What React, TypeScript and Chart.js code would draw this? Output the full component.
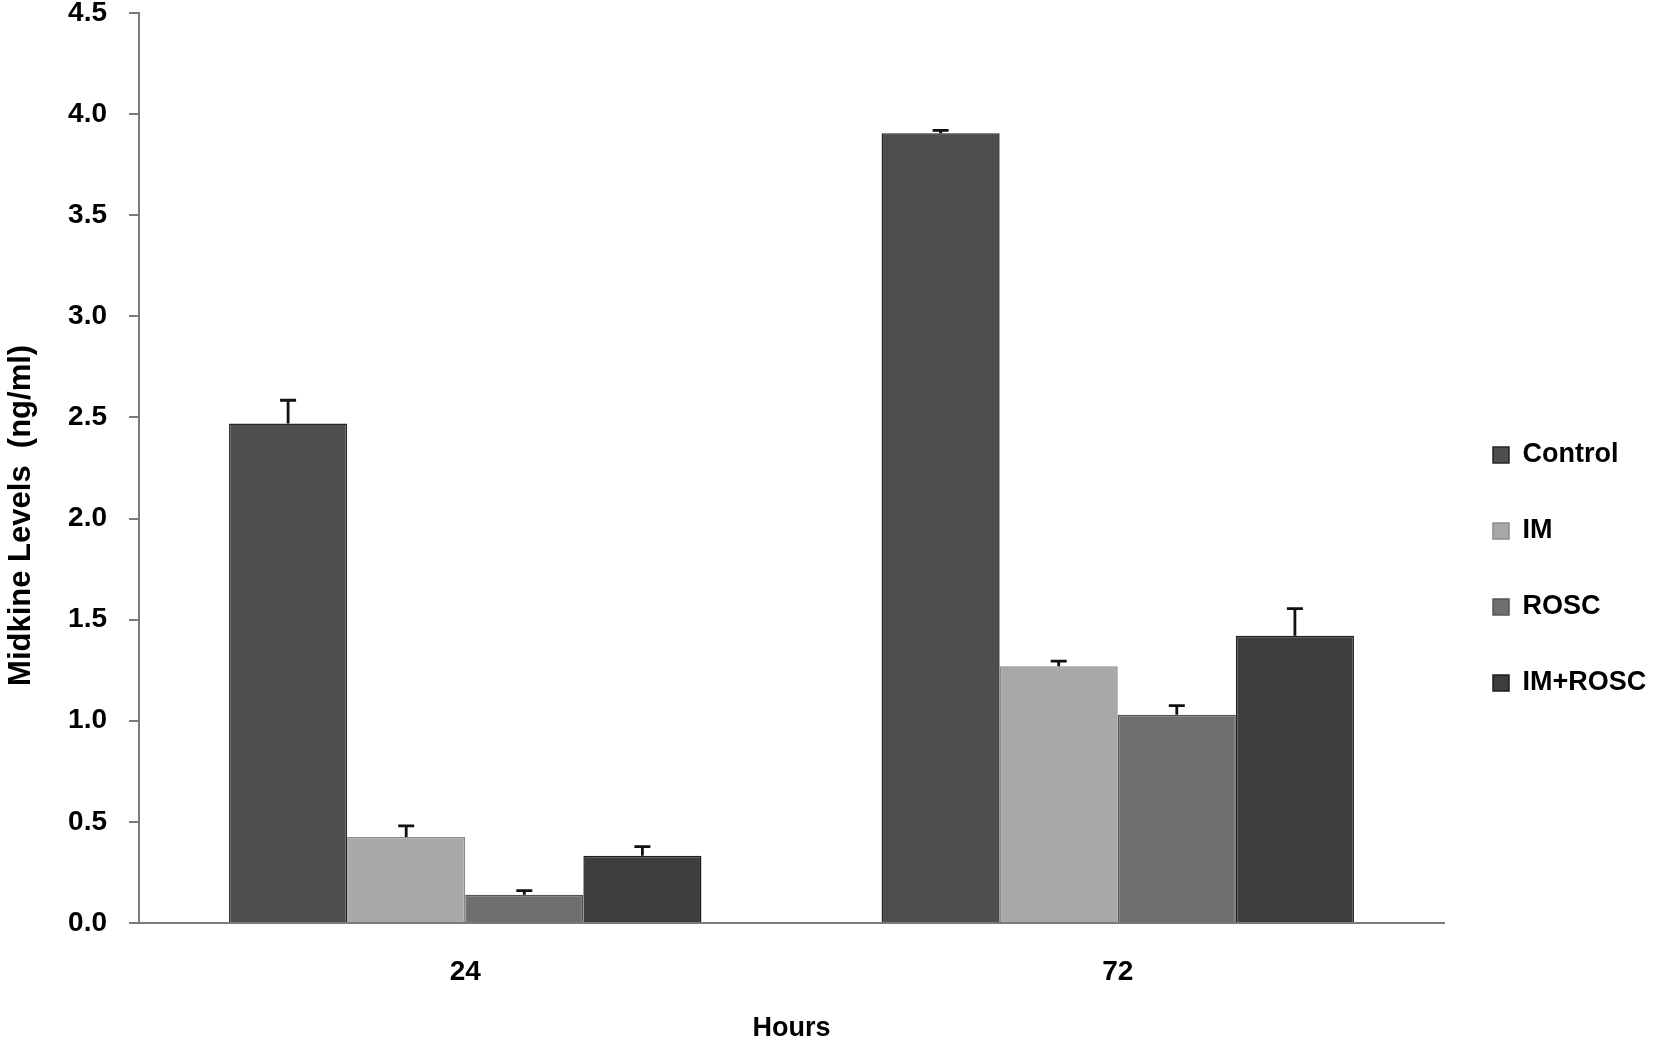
import React, { useEffect, useRef } from "react";
import { Chart, registerables } from "chart.js";

Chart.register(...registerables);

const categories = ["24", "72"];
const seriesNames = ["Control", "IM", "ROSC", "IM+ROSC"];
const controlValues = [2.47, 3.905];
const controlErrors = [0.115, 0.015];
const imValues = [0.425, 1.27];
const imErrors = [0.055, 0.025];
const roscValues = [0.14, 1.03];
const roscErrors = [0.02, 0.045];
const imRoscValues = [0.333, 1.42];
const imRoscErrors = [0.045, 0.135];
const yTicks = [0, 0.5, 1.0, 1.5, 2.0, 2.5, 3.0, 3.5, 4.0, 4.5];

const fillColors = ["#4e4e4e", "#a8a8a8", "#6f6f6f", "#3d3d3d"];
const edgeColors = ["#262626", "#8c8c8c", "#555555", "#1e1e1e"];
const FONT = "'Liberation Sans', Arial, sans-serif";

const errorBarPlugin = {
  id: "errorBars",
  afterDatasetsDraw(chart: any) {
    const ctx = chart.ctx;
    const yScale = chart.scales.y;
    ctx.save();
    ctx.strokeStyle = "#111111";
    ctx.lineWidth = 2.8;
    chart.data.datasets.forEach((ds: any, i: number) => {
      const meta = chart.getDatasetMeta(i);
      meta.data.forEach((bar: any, j: number) => {
        const v = ds.data[j];
        const e = ds.errors[j];
        const yTop = yScale.getPixelForValue(v);
        const yErr = yScale.getPixelForValue(v + e);
        ctx.beginPath();
        ctx.moveTo(bar.x, yTop);
        ctx.lineTo(bar.x, yErr);
        ctx.moveTo(bar.x - 8, yErr);
        ctx.lineTo(bar.x + 8, yErr);
        ctx.stroke();
      });
    });
    ctx.restore();
  },
};

export default function App() {
  const ref = useRef<HTMLCanvasElement | null>(null);
  useEffect(() => {
    document.body.style.margin = "0";
    const valueSets = [controlValues, imValues, roscValues, imRoscValues];
    const errorSets = [controlErrors, imErrors, roscErrors, imRoscErrors];
    const chart = new Chart(ref.current as HTMLCanvasElement, {
      type: "bar",
      data: {
        labels: categories,
        datasets: seriesNames.map((name, i) => ({
          label: name,
          data: valueSets[i],
          errors: errorSets[i],
          backgroundColor: fillColors[i],
          borderColor: edgeColors[i],
          borderWidth: 1.5,
          categoryPercentage: 0.724,
          barPercentage: 1.0,
        })) as any,
      },
      options: {
        animation: false,
        responsive: false,
        layout: { padding: 0 },
        plugins: {
          tooltip: { enabled: false },
          legend: {
            position: "right",
            align: "start",
            maxWidth: 210,
            title: {
              display: true,
              text: "",
              font: { size: 10, lineHeight: 1 },
              padding: { top: 382.5, bottom: 0 },
            },
            labels: {
              boxWidth: 16,
              boxHeight: 16,
              padding: 49,
              color: "#000000",
              font: { family: FONT, size: 27, weight: "bold" },
            },
          },
        },
        scales: {
          x: {
            grid: { display: false, drawTicks: false },
            border: { display: true, color: "#7a7a7a", width: 2 },
            ticks: {
              color: "#000000",
              padding: 32,
              font: { family: FONT, size: 28, weight: "bold" },
            },
            title: {
              display: true,
              text: "Hours",
              color: "#000000",
              font: { family: FONT, size: 27, weight: "bold", lineHeight: 1 },
              padding: { top: 0, bottom: 0 },
            },
            afterFit: (scale: any) => {
              scale.height = 119;
            },
          },
          y: {
            min: 0,
            max: 4.5,
            grid: {
              display: true,
              drawOnChartArea: false,
              drawTicks: true,
              tickLength: 10,
              color: "#7a7a7a",
              lineWidth: 2,
            },
            border: { display: true, color: "#7a7a7a", width: 2 },
            afterBuildTicks: (scale: any) => {
              scale.ticks = yTicks.map((v) => ({ value: v }));
            },
            ticks: {
              color: "#000000",
              padding: 22,
              font: { family: FONT, size: 28, weight: "bold" },
              callback: (v: any) => Number(v).toFixed(1),
            },
            title: {
              display: true,
              text: "Midkine Levels  (ng/ml)           ",
              color: "#000000",
              font: { family: FONT, size: 31, weight: "bold", lineHeight: 1 },
              padding: { top: 6, bottom: 0 },
            },
            afterFit: (scale: any) => {
              scale.width = 139;
              scale.paddingTop = 13;
              scale.paddingBottom = 13;
            },
          },
        },
      } as any,
      plugins: [errorBarPlugin],
    });
    return () => chart.destroy();
  }, []);
  return (
    <div style={{ width: 1654, height: 1042, background: "#ffffff" }}>
      <canvas ref={ref} width={1654} height={1042} style={{ display: "block" }} />
    </div>
  );
}
